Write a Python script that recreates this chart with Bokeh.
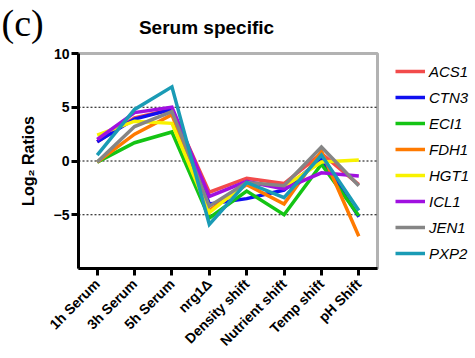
from bokeh.plotting import figure
from bokeh.models import (Range1d, FixedTicker, Legend, LegendItem, BoxAnnotation)
from bokeh.core.properties import value
from bokeh.embed import file_html
from bokeh.resources import INLINE
import math

categories = ["1h Serum", "3h Serum", "5h Serum", "nrg1\u0394", "Density shift",
              "Nutrient shift", "Temp shift", "pH Shift"]

ACS1 = [1.8, 4.0, 4.8, -2.9, -1.6, -2.1, 0.7, -2.2]
CTN3 = [1.8, 3.9, 4.8, -4.0, -3.5, -2.7, 0.2, -5.2]
ECI1 = [-0.1, 1.7, 2.7, -5.3, -2.8, -5.0, -0.3, -5.1]
FDH1 = [-0.1, 2.5, 4.3, -4.6, -2.2, -4.0, 0.9, -7.0]
HGT1 = [2.4, 3.7, 3.5, -4.8, -2.0, -2.4, -0.1, 0.1]
ICL1 = [2.0, 4.5, 5.0, -3.3, -1.9, -2.6, -1.1, -1.4]
JEN1 = [-0.1, 3.2, 4.6, -4.2, -2.0, -2.3, 1.3, -2.3]
PXP2 = [0.55, 4.8, 6.9, -5.9, -2.0, -3.4, 0.55, -4.6]

genes = ["ACS1", "CTN3", "ECI1", "FDH1", "HGT1", "ICL1", "JEN1", "PXP2"]
series = [ACS1, CTN3, ECI1, FDH1, HGT1, ICL1, JEN1, PXP2]
colors = ["#F24B4B", "#1010F0", "#14C414", "#FF7A00", "#F8F200", "#A010E0", "#858585", "#1A9BB5"]

y_ticks = [-5, 0, 5, 10]
grid_levels = [-5, 0, 5]
title_text = "Serum specific"
panel_tag = "(c)"

FONT = "Liberation Sans"

# layout (pixels): canvas and the plot box inside it
W, H = 475, 358
L, R, T, B = 78, 377, 53, 268
X0, X1 = -0.5, len(categories) - 0.5
Y0, Y1 = -10, 10
kx = (R - L) / (X1 - X0)
ky = (B - T) / (Y1 - Y0)
x_range = Range1d(X0 - L / kx, X1 + (W - R) / kx)
y_range = Range1d(Y0 - (H - B) / ky, Y1 + T / ky)


def px2x(px):
    return x_range.start + px / kx


def py2y(py):
    return y_range.end - py / ky


xs = list(range(len(categories)))

p = figure(width=W, height=H, x_range=x_range, y_range=y_range, output_backend="svg",
           toolbar_location=None, min_border=0)
p.outline_line_color = None
p.background_fill_color = "white"
p.border_fill_color = "white"
p.grid.visible = False

# dotted reference lines
p.segment(x0=[X0] * len(grid_levels), x1=[X1] * len(grid_levels), y0=grid_levels, y1=grid_levels,
          line_color="black", line_width=1, line_dash="2 2", level="underlay")

# axes drawn at the plot box edges
p.yaxis.fixed_location = X0
p.yaxis.bounds = (Y0, Y1)
p.xaxis.fixed_location = Y0
p.xaxis.bounds = (X0, X1)
p.yaxis.ticker = FixedTicker(ticks=y_ticks)
p.xaxis.ticker = FixedTicker(ticks=xs)
p.xaxis.major_label_overrides = {i: c for i, c in zip(xs, categories)}
for ax in (p.xaxis[0], p.yaxis[0]):
    ax.axis_line_width = 3
    ax.major_tick_line_width = 3
    ax.major_tick_out = 7
    ax.major_tick_in = 0
    ax.minor_tick_line_color = None
    ax.major_label_text_font = FONT
    ax.major_label_text_font_style = "bold"
    ax.major_label_text_color = "black"
    ax.axis_line_color = "black"
    ax.major_tick_line_color = "black"

p.yaxis.major_label_text_font_size = "14px"
p.yaxis.major_label_standoff = 2
p.yaxis.axis_label = "Log\u2082 Ratios"
p.yaxis.axis_label_text_font = FONT
p.yaxis.axis_label_text_font_style = "bold"
p.yaxis.axis_label_text_font_size = "16px"
p.yaxis.axis_label_text_color = "black"
p.yaxis.axis_label_standoff = 14

p.xaxis.major_label_orientation = math.pi / 4
p.xaxis.major_label_text_font_size = "14px"
p.xaxis.major_label_standoff = 6

items = []
for g, s, c in zip(genes, series, colors):
    r = p.line(xs, s, line_color=c, line_width=3.5, line_join="miter")
    items.append(LegendItem(label=g, renderers=[r]))

# plot box
p.add_layout(BoxAnnotation(left=X0, right=X1, bottom=Y0, top=Y1, fill_alpha=0,
                           line_color="black", line_width=3))

legend = Legend(items=items, location=(395, 92))
legend.border_line_color = None
legend.background_fill_alpha = 0
legend.padding = 0
legend.margin = 0
legend.spacing = 0
legend.glyph_width = 30
legend.glyph_height = 26
legend.label_height = 26
legend.label_standoff = 4
legend.label_text_font = FONT
legend.label_text_font_style = "italic"
legend.label_text_font_size = "15px"
legend.label_text_color = "black"
p.add_layout(legend, "center")

p.text(x=[px2x(206)], y=[py2y(26.5)], text=[title_text], text_font=value(FONT),
       text_font_style="bold", text_font_size="19px", text_align="center",
       text_baseline="alphabetic", text_color="black")
p.text(x=[px2x(1)], y=[py2y(22)], text=[panel_tag], text_font=value("Liberation Serif"),
       text_font_size="38px", text_align="left", text_baseline="alphabetic", text_color="black")

open("out.html", "w").write(file_html(p, INLINE))
